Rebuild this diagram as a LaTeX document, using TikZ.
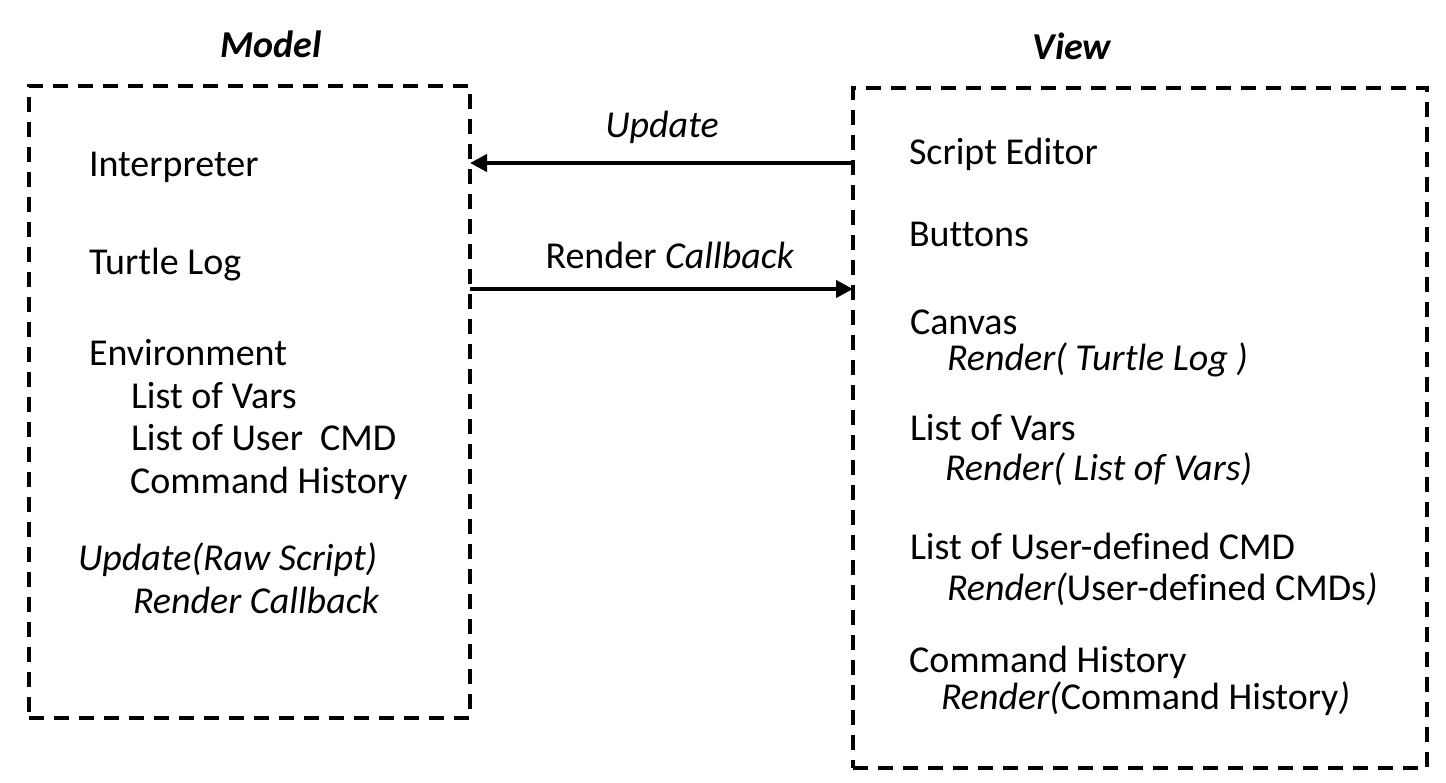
\documentclass[tikz,border=0pt]{standalone}
\usepackage{fontspec}
\setmainfont{Carlito}[Ligatures=NoCommon]
\usetikzlibrary{arrows.meta}
\begin{document}
\begin{tikzpicture}[x=1pt,y=-1pt,
  every node/.style={inner sep=0pt,outer sep=0pt,font=\fontsize{38}{44}\selectfont},
  txt/.style={anchor=base west},
  frame/.style={draw=black,line width=3.5pt,dash pattern=on 15pt off 10pt},
  conn/.style={line width=4pt,-{Triangle[length=17pt,width=17pt]}},
  title/.style={anchor=base,font=\fontsize{38}{44}\selectfont\bfseries\itshape}]
\useasboundingbox (0,0) rectangle (1446,782);
% frames
\node[frame,minimum width=441pt,minimum height=632pt,anchor=north west] (model) at (29,86) {};
\node[frame,minimum width=574pt,minimum height=680pt,anchor=north west] (view) at (853,88) {};
\node[title] (mt) at (271,57) {Model};
\node[title] (vt) at (1072,59) {View};
% model texts
\node[txt] (interp) at (89,176) {Interpreter};
\node[txt] (tlog) at (89,274) {Turtle Log};
\node[txt] (env) at (89,365) {Environment};
\node[txt] (lov) at (131,408) {List of Vars};
\node[txt] (louc) at (131,450) {List of User\ \ CMD};
\node[txt] (ch) at (130,493) {Command History};
\node[txt,font=\fontsize{38}{44}\selectfont\itshape] (upd) at (78,570) {Update(Raw Script)};
\node[txt,font=\fontsize{38}{44}\selectfont\itshape] (rcb) at (133,613) {Render Callback};
% view texts
\node[txt] (se) at (909,164) {Script Editor};
\node[txt] (btn) at (909,246) {Buttons};
\node[txt] (cv) at (910,334) {Canvas};
\node[txt] (rtl) at (947,370) {\itshape Render( Turtle Log )};
\node[txt] (vlov) at (910,440) {List of Vars};
\node[txt] (rlov) at (945,480) {\itshape Render( List of Vars)};
\node[txt] (udc) at (910,559) {List of User-defined CMD};
\node[txt] (rudc) at (947,600) {\textit{Render(}User-defined CMDs\textit{)}};
\node[txt] (vch) at (909,672) {Command History};
\node[txt] (rch) at (941,709) {\textit{Render(}Command History\textit{)}};
% connectors
\coordinate (u1) at (view.west |- 0,163);
\coordinate (u2) at (model.east |- 0,163);
\coordinate (r1) at (model.east |- 0,289);
\coordinate (r2) at (view.west |- 0,289);
\draw[conn] (u1) -- (u2);
\draw[conn] (r1) -- (r2);
\node[anchor=base,font=\fontsize{38}{44}\selectfont\itshape] (ul) at (662,137) {Update};
\node[anchor=base] (rl) at (670,268) {Render \textit{Callback}};
\end{tikzpicture}
\end{document}
